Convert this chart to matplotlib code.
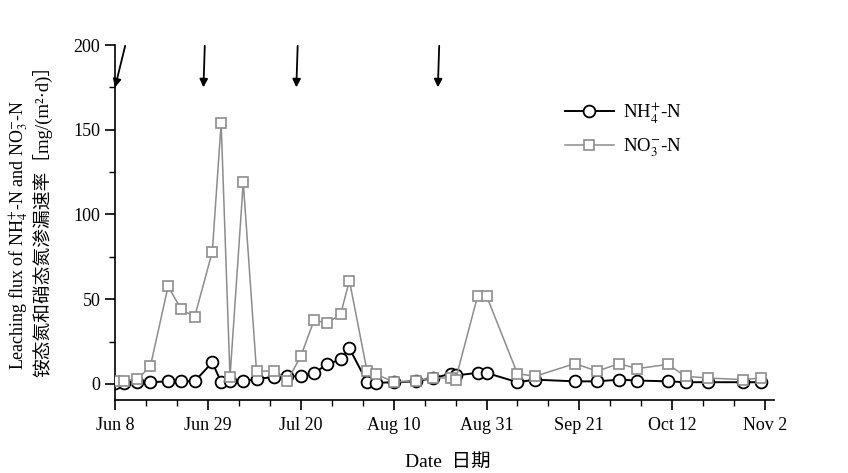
import matplotlib
matplotlib.use("Agg")
import matplotlib.pyplot as plt
import pandas as pd
from matplotlib.ticker import MultipleLocator

plt.rcParams["font.family"] = ["Liberation Serif", "Noto Sans CJK SC"]
plt.rcParams["mathtext.fontset"] = "stix"

# sampling dates (year is arbitrary)
dates = [
    "06-08", "06-10", "06-13", "06-16", "06-20", "06-23", "06-26", "06-30",
    "07-02", "07-04", "07-07", "07-10", "07-14", "07-17", "07-20", "07-23",
    "07-26", "07-29", "07-31", "08-04", "08-06", "08-10", "08-15", "08-19",
    "08-23", "08-24", "08-29", "08-31", "09-07", "09-11", "09-20", "09-25",
    "09-30", "10-04", "10-11", "10-15", "10-20", "10-28", "11-01",
]
nh4 = [
    0.8, 0.5, 1, 1, 1.5, 1.5, 1.5, 12.7, 1, 2, 1.5, 3, 4, 4.5, 4.5, 6.5,
    11.5, 14.5, 21, 1, 0.6, 1, 1.5, 3.5, 6, 5, 6.5, 6.5, 1, 2.5, 1.5, 1.5,
    2.5, 2, 1.5, 1, 1, 1, 1,
]
no3 = [
    2, 2, 2.6, 10.4, 57.5, 44, 39.5, 78, 154, 4, 119, 7.4, 7.8, 2, 16.3,
    37.5, 36, 41, 61, 7.4, 5.9, 1, 2, 3.5, 3.5, 2.5, 52, 52, 6, 4.5, 12,
    7.5, 12, 9, 11.5, 4.5, 3.5, 2.5, 3.5,
]
tick_dates = ["06-08", "06-29", "07-20", "08-10", "08-31", "09-21", "10-12", "11-02"]
tick_labels = ["Jun 8", "Jun 29", "Jul 20", "Aug 10", "Aug 31", "Sep 21", "Oct 12", "Nov 2"]
# fertilisation arrows: (tail date, tip date)
arrow_tails = ["06-10", "06-28", "07-19", "08-20"]
arrow_tips = ["06-08", "06-28", "07-19", "08-20"]

start = pd.Timestamp("2010-06-08")


def day(s):
    return (pd.Timestamp("2010-" + s) - start).days


x = [day(d) for d in dates]

fig = plt.figure(figsize=(8.48, 4.73), dpi=100)
ax = fig.add_axes((115 / 848, 1 - 400 / 473, 659 / 848, 355 / 473))

ax.plot(x, nh4, color="black", lw=1.4, marker="o", ms=8.5,
        mfc="white", mec="black", mew=1.3, label="NH$_4^{+}$-N", zorder=2)
ax.plot(x, no3, color="#8c8c8c", lw=1.1, marker="s", ms=7.5,
        mfc="white", mec="#8c8c8c", mew=1.2, label="NO$_3^{-}$-N", zorder=3)

ax.set_xlim(0, 149)
ax.set_ylim(-9.5, 200)
ax.set_xticks([day(t) for t in tick_dates])
ax.set_xticklabels(tick_labels)
ax.xaxis.set_minor_locator(MultipleLocator(7))
ax.set_yticks([0, 50, 100, 150, 200])
ax.yaxis.set_minor_locator(MultipleLocator(25))
ax.tick_params(which="major", direction="out", length=7, width=1.2, labelsize=13)
ax.tick_params(axis="x", pad=5)
ax.tick_params(which="minor", direction="out", length=4, width=1.0)
for side in ("top", "right"):
    ax.spines[side].set_visible(False)
for side in ("left", "bottom"):
    ax.spines[side].set_linewidth(1.2)

for t0, t1 in zip(arrow_tails, arrow_tips):
    ax.annotate("", xy=(day(t1), 175), xytext=(day(t0) + 0.3, 199.5),
                arrowprops=dict(arrowstyle="-|>", color="black", lw=1.3,
                                mutation_scale=12, shrinkA=0, shrinkB=0),
                annotation_clip=False)

ax.legend(loc="upper left",
          bbox_to_anchor=(548 / 848, 1 - 83 / 473), bbox_transform=fig.transFigure,
          frameon=False, fontsize=13.5, handlelength=2.6, handletextpad=0.5,
          labelspacing=0.6)

fig.text(19 / 848, 1 - 235 / 473, "Leaching flux of NH$_4^{+}$-N and NO$_3^{-}$-N",
         rotation=90, ha="center", va="center", fontsize=13)
fig.text(43 / 848, 1 - 216 / 473, "铵态氮和硝态氮渗漏速率［mg/(m²·d)］",
         rotation=90, ha="center", va="center", fontsize=13.5)
fig.text(448 / 848, 1 - 462 / 473, "Date  日期", ha="center", va="center",
         fontsize=14)

fig.savefig("out.png", dpi=100, facecolor="white")
